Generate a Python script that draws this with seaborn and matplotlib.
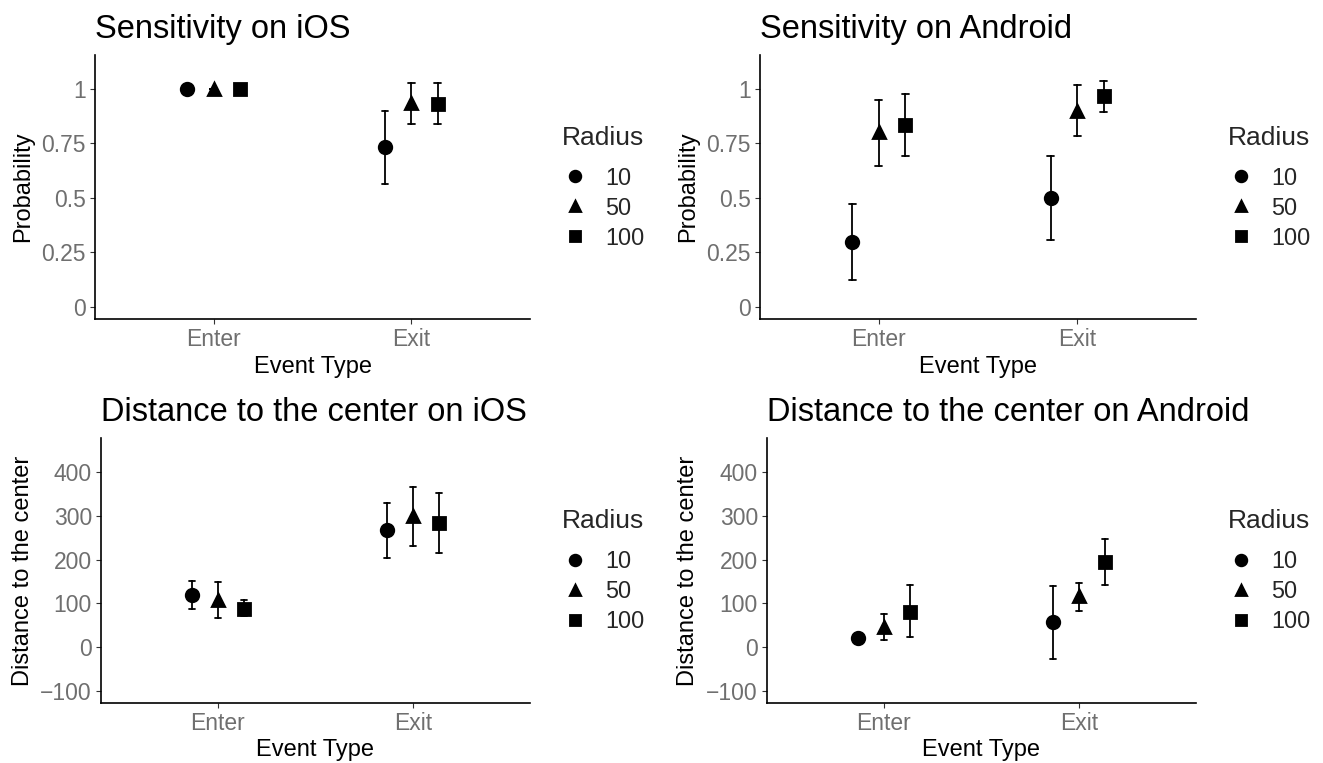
import numpy as np
import pandas as pd
import matplotlib
matplotlib.use("Agg")
import matplotlib.pyplot as plt
import seaborn as sns

# ---------------- data ----------------
events = ["Enter", "Exit"]
radii = ["10", "50", "100"]

# values ordered as [Enter r10, Enter r50, Enter r100, Exit r10, Exit r50, Exit r100]
ios_sens_mean = [1.0, 1.0, 1.0, 0.733, 0.933, 0.929]
ios_sens_lo = [1.0, 1.0, 1.0, 0.565, 0.840, 0.840]
ios_sens_hi = [1.0, 1.0, 1.0, 0.900, 1.027, 1.027]

and_sens_mean = [0.30, 0.80, 0.833, 0.50, 0.90, 0.967]
and_sens_lo = [0.125, 0.647, 0.690, 0.309, 0.786, 0.895]
and_sens_hi = [0.473, 0.951, 0.975, 0.690, 1.017, 1.037]

ios_dist_mean = [118, 108, 88, 267, 300, 283]
ios_dist_lo = [86, 67, 71, 204, 232, 214]
ios_dist_hi = [151, 148, 107, 329, 366, 351]

and_dist_mean = [21, 47, 81, 57, 117, 194]
and_dist_lo = [21, 17, 23, -27, 83, 141]
and_dist_hi = [21, 76, 141, 140, 146, 248]

titles = ["Sensitivity on iOS", "Sensitivity on Android",
          "Distance to the center on iOS", "Distance to the center on Android"]
ylabels = ["Probability", "Probability", "Distance to the center", "Distance to the center"]
xlabel = "Event Type"
legend_title = "Radius"
sens_ticks = [0, 0.25, 0.5, 0.75, 1]
sens_ticklabels = ["0", "0.25", "0.5", "0.75", "1"]
dist_ticks = [-100, 0, 100, 200, 300, 400]


def long_frame(mean, lo, hi):
    rows = []
    i = 0
    for ev in events:
        for r in radii:
            for v in (lo[i], mean[i], hi[i]):
                rows.append({"event": ev, "radius": r, "value": v})
            i += 1
    return pd.DataFrame(rows)


panels = [
    long_frame(ios_sens_mean, ios_sens_lo, ios_sens_hi),
    long_frame(and_sens_mean, and_sens_lo, and_sens_hi),
    long_frame(ios_dist_mean, ios_dist_lo, ios_dist_hi),
    long_frame(and_dist_mean, and_dist_lo, and_dist_hi),
]

# ---------------- style ----------------
sns.set_style("ticks")
plt.rcParams["font.family"] = ["Liberation Sans", "DejaVu Sans"]

W, H = 1323, 763
fig = plt.figure(figsize=(W / 100, H / 100), dpi=100)

# axes rectangles in pixels: left, right, top, bottom
rects = [(95, 530, 55, 319), (760, 1196, 55, 319),
         (101, 530, 438, 703), (767, 1196, 438, 703)]
legend_pos = [(562, 126), (1228, 126), (562, 509), (1228, 509)]
ylabel_right = [34, 699, 34, 699]
xlabel_top = [356, 356, 739, 739]

tick_grey = "#6f6f6f"

for k, (df, (l, r, t, b)) in enumerate(zip(panels, rects)):
    ax = fig.add_axes([l / W, 1 - b / H, (r - l) / W, (b - t) / H])
    sns.pointplot(
        data=df, x="event", y="value", hue="radius",
        order=events, hue_order=radii,
        estimator="median",
        errorbar=lambda v: (np.min(v), np.max(v)),
        markers=["o", "^", "s"], linestyles="none",
        dodge=0.267, palette=["black"] * 3,
        capsize=0.035, err_kws={"linewidth": 1.3, "color": "black"},
        markersize=9, ax=ax,
    )
    ax.set_xlim(-0.6, 1.6)
    if k < 2:
        ax.set_ylim(-0.055, 1.155)
        ax.set_yticks(sens_ticks)
        ax.set_yticklabels(sens_ticklabels)
    else:
        ax.set_ylim(-127.5, 477.5)
        ax.set_yticks(dist_ticks)
    for side in ("top", "right"):
        ax.spines[side].set_visible(False)
    for side in ("left", "bottom"):
        ax.spines[side].set_linewidth(1.2)
        ax.spines[side].set_color("black")
    ax.tick_params(axis="both", labelsize=16.5, labelcolor=tick_grey,
                   color="#333333", length=3.5, width=0.8, pad=3)
    ax.set_title(titles[k], loc="left", fontsize=23.5, pad=12.5, color="black")
    ax.set_xlabel(xlabel, fontsize=17, color="black")
    ax.set_ylabel(ylabels[k], fontsize=17, color="black")
    ax.xaxis.set_label_coords(0.5, (b - xlabel_top[k]) / (b - t))
    ax.yaxis.set_label_coords((ylabel_right[k] - l) / (r - l), 0.5)

    old = ax.get_legend()
    handles = old.legend_handles
    labels = [tx.get_text() for tx in old.texts]
    old.remove()
    for h in handles:
        h.set_color("black")
        h.set_linestyle("none")
    lx, ly = legend_pos[k]
    leg = ax.legend(handles, labels, title=legend_title,
                    loc="upper left", bbox_to_anchor=(lx / W, 1 - ly / H),
                    bbox_transform=fig.transFigure, frameon=False,
                    borderpad=0, borderaxespad=0, fontsize=16.8,
                    title_fontsize=19, handlelength=1.12, handletextpad=0.73,
                    labelspacing=0.3, alignment="left", markerscale=0.85)
    # extra gap between legend title and entries (as in the reference)
    leg._legend_box.sep = 12

fig.savefig("out.png", dpi=100)
